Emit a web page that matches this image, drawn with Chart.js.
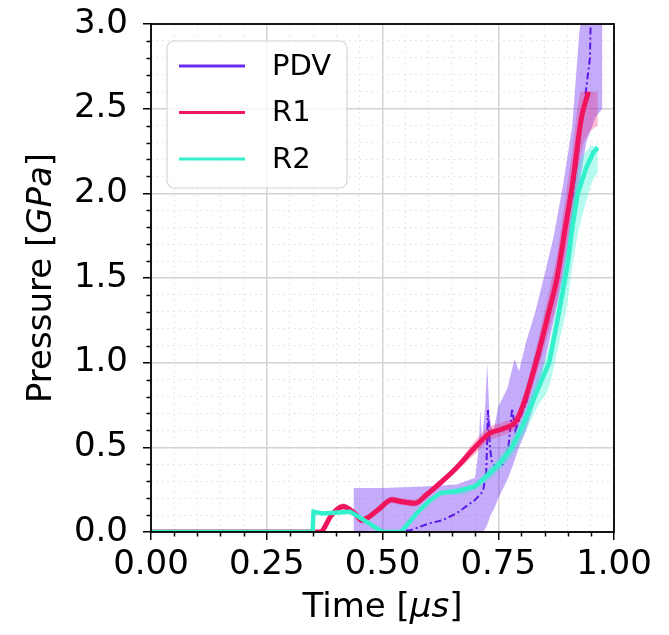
<!DOCTYPE html>
<html>
<head>
<meta charset="utf-8">
<script src="https://cdn.jsdelivr.net/npm/chart.js@4.4.1/dist/chart.umd.min.js"></script>
<style>
  html, body { margin: 0; padding: 0; background: #fff; }
  #contenedor { width: 669px; height: 635px; position: relative; }
</style>
</head>
<body>
<div id="contenedor"><canvas id="grafico"></canvas></div>
<script>
// ticks
const xMayores = [0, 0.25, 0.5, 0.75, 1.0];
const xEtiquetas = ['0.00', '0.25', '0.50', '0.75', '1.00'];
const yMayores = [0, 0.5, 1.0, 1.5, 2.0, 2.5, 3.0];
const yEtiquetas = ['0.0', '0.5', '1.0', '1.5', '2.0', '2.5', '3.0'];

// PDV (media + banda)
const pdvTiempo = [0, 0.47, 0.52, 0.56, 0.60, 0.63, 0.66, 0.70, 0.717, 0.724, 0.728, 0.732, 0.736, 0.745, 0.76, 0.772, 0.78, 0.787, 0.795, 0.81, 0.825, 0.84, 0.855, 0.87, 0.885, 0.90, 0.912, 0.93, 0.94, 0.948, 0.95];
const pdvMedia  = [0, 0, 0.003, 0.01, 0.05, 0.07, 0.11, 0.19, 0.24, 0.35, 0.72, 0.50, 0.42, 0.38, 0.40, 0.50, 0.73, 0.60, 0.66, 0.76, 0.92, 1.05, 1.24, 1.42, 1.62, 1.85, 2.0, 2.42, 2.62, 2.8, 3.05];
const pdvBandaTiempo = [0.437, 0.4375, 0.50, 0.60, 0.66, 0.70, 0.708, 0.711, 0.715, 0.717, 0.722, 0.726, 0.731, 0.735, 0.74, 0.75, 0.77, 0.785, 0.795, 0.81, 0.83, 0.85, 0.87, 0.89, 0.91, 0.925, 0.94, 0.96, 0.975];
const pdvBajo = [0, 0, 0, 0, 0, 0, 0, 0, 0, 0, 0.02, 0.04, 0.08, 0.11, 0.13, 0.2, 0.31, 0.42, 0.5, 0.6, 0.78, 1.0, 1.25, 1.5, 1.8, 2.05, 2.3, 2.45, 2.5];
const pdvAlto = [0, 0.26, 0.26, 0.27, 0.28, 0.32, 0.5, 0.72, 0.55, 0.6, 0.75, 1.0, 0.7, 0.62, 0.6, 0.74, 0.85, 1.02, 0.95, 1.12, 1.3, 1.52, 1.75, 2.05, 2.4, 2.95, 3.2, 3.2, 3.2];

// R1
const r1Tiempo = [0, 0.365, 0.39, 0.415, 0.44, 0.455, 0.49, 0.52, 0.54, 0.57, 0.595, 0.625, 0.66, 0.70, 0.73, 0.76, 0.79, 0.81, 0.84, 0.862, 0.877, 0.895, 0.91, 0.93, 0.945, 0.965];
const r1Media  = [0, 0, 0.1, 0.15, 0.11, 0.07, 0.13, 0.19, 0.18, 0.17, 0.22, 0.29, 0.38, 0.50, 0.58, 0.61, 0.66, 0.80, 1.09, 1.33, 1.50, 1.80, 2.05, 2.45, 2.6, null];
const r1Bajo   = [0, 0, 0.08, 0.13, 0.09, 0.05, 0.11, 0.17, 0.16, 0.15, 0.20, 0.27, 0.36, 0.46, 0.54, 0.57, 0.62, 0.74, 1.00, 1.21, 1.36, 1.63, 1.85, 2.25, 2.35, 2.40];
const r1Alto   = [0, 0, 0.12, 0.17, 0.13, 0.09, 0.15, 0.21, 0.20, 0.19, 0.24, 0.31, 0.40, 0.54, 0.62, 0.65, 0.70, 0.86, 1.18, 1.45, 1.64, 1.97, 2.25, 2.60, 2.60, 2.60];

// R2
const r2Tiempo = [0, 0.349, 0.351, 0.37, 0.43, 0.46, 0.50, 0.54, 0.577, 0.60, 0.625, 0.66, 0.70, 0.725, 0.755, 0.78, 0.805, 0.835, 0.86, 0.88, 0.90, 0.91, 0.922, 0.94, 0.955, 0.965];
const r2Media  = [0, 0, 0.12, 0.11, 0.12, 0.07, 0, 0, 0.12, 0.18, 0.23, 0.24, 0.27, 0.33, 0.41, 0.50, 0.64, 0.84, 1.00, 1.28, 1.58, 1.80, 2.00, 2.15, 2.24, 2.27];
const r2Bajo   = [0, 0, 0.11, 0.10, 0.11, 0.06, 0, 0, 0.11, 0.17, 0.22, 0.22, 0.25, 0.30, 0.37, 0.45, 0.57, 0.74, 0.86, 1.10, 1.36, 1.56, 1.76, 1.95, 2.08, 2.12];
const r2Alto   = [0, 0, 0.13, 0.12, 0.13, 0.08, 0, 0, 0.13, 0.19, 0.24, 0.26, 0.29, 0.36, 0.45, 0.55, 0.70, 0.92, 1.10, 1.40, 1.72, 1.95, 2.15, 2.25, 2.28, 2.28];

function puntos(t, v) {
    return t.map((x, i) => ({ x: x, y: v[i] }));
}

function esMayor(v, lista) {
    return lista.some(m => Math.abs(m - v) < 1e-6);
}

const FUENTE = '"DejaVu Sans", sans-serif';

function banda(t, bajo, alto, color, orden, suave) {
    const comun = { label: '', banda: true, borderWidth: 0, borderColor: 'rgba(0,0,0,0)', pointRadius: 0, order: orden, clip: 0 };
    if (suave) comun.cubicInterpolationMode = 'monotone';
    return [
        Object.assign({}, comun, { data: puntos(t, bajo), fill: false }),
        Object.assign({}, comun, { data: puntos(t, alto), backgroundColor: color, fill: '-1' })
    ];
}

// marco, ticks menores y leyenda
const extras = {
    id: 'extras',
    afterDatasetsDraw(chart) {
        const ctx = chart.ctx;
        const a = chart.chartArea;
        const sx = chart.scales.x, sy = chart.scales.y;
        ctx.save();
        ctx.strokeStyle = '#000';
        ctx.lineWidth = 1.5;
        for (let i = 0; i <= 20; i++) {
            const v = i * 0.05;
            if (esMayor(v, xMayores)) continue;
            const px = Math.round(sx.getPixelForValue(v)) + 0.5;
            ctx.beginPath(); ctx.moveTo(px, a.bottom); ctx.lineTo(px, a.bottom + 4.5); ctx.stroke();
        }
        for (let i = 0; i <= 30; i++) {
            const v = i * 0.1;
            if (esMayor(v, yMayores)) continue;
            const py = Math.round(sy.getPixelForValue(v)) + 0.5;
            ctx.beginPath(); ctx.moveTo(a.left, py); ctx.lineTo(a.left - 4.5, py); ctx.stroke();
        }
        ctx.lineWidth = 1.8;
        ctx.strokeRect(a.left, a.top, a.right - a.left, a.bottom - a.top);

        // leyenda
        const lx = 167, ly = 41, lw = 180, lh = 147, r = 7;
        ctx.beginPath();
        ctx.moveTo(lx + r, ly);
        ctx.arcTo(lx + lw, ly, lx + lw, ly + lh, r);
        ctx.arcTo(lx + lw, ly + lh, lx, ly + lh, r);
        ctx.arcTo(lx, ly + lh, lx, ly, r);
        ctx.arcTo(lx, ly, lx + lw, ly, r);
        ctx.closePath();
        ctx.fillStyle = 'rgba(255,255,255,0.8)';
        ctx.fill();
        ctx.strokeStyle = '#d6d6d6';
        ctx.lineWidth = 1.2;
        ctx.stroke();
        const entradas = chart.data.datasets.filter(d => !d.banda);
        ctx.font = '29px ' + FUENTE;
        ctx.textBaseline = 'middle';
        ctx.textAlign = 'left';
        entradas.forEach((d, i) => {
            const y = 66 + i * 46.5;
            ctx.strokeStyle = d.colorLeyenda;
            ctx.lineWidth = 2.8;
            ctx.setLineDash([]);
            ctx.beginPath(); ctx.moveTo(179, y); ctx.lineTo(245, y); ctx.stroke();
            ctx.fillStyle = '#000';
            ctx.fillText(d.label, 272, y + 1);
        });
        ctx.restore();
    },
    afterDraw(chart) {
        const ctx = chart.ctx;
        const a = chart.chartArea;
        function mixto(partes, x, y) {
            let total = 0;
            partes.forEach(p => {
                ctx.font = (p[1] ? 'italic ' : '') + '34px ' + FUENTE;
                total += ctx.measureText(p[0]).width;
            });
            let cx = x - total / 2;
            partes.forEach(p => {
                ctx.font = (p[1] ? 'italic ' : '') + '34px ' + FUENTE;
                ctx.fillText(p[0], cx, y);
                cx += ctx.measureText(p[0]).width;
            });
        }
        ctx.save();
        ctx.fillStyle = '#000';
        ctx.textBaseline = 'middle';
        ctx.textAlign = 'left';
        mixto([['Time [', false], ['\u03bcs', true], [']', false]], (a.left + a.right) / 2, 608);
        ctx.translate(42, (a.top + a.bottom) / 2);
        ctx.rotate(-Math.PI / 2);
        mixto([['Pressure [', false], ['GPa', true], [']', false]], 0, 0);
        ctx.restore();
    }
};

const ctx = document.getElementById('grafico').getContext('2d');
new Chart(ctx, {
    type: 'line',
    data: {
        datasets: [
            ...banda(pdvBandaTiempo, pdvBajo, pdvAlto, 'rgba(125,70,245,0.45)', 10, false),
            { label: 'PDV', data: puntos(pdvTiempo, pdvMedia), borderColor: '#5a18e6', colorLeyenda: '#6a2cee', borderWidth: 2, borderDash: [7, 3, 2, 3], pointRadius: 0, fill: false, order: 9, clip: 0 },
            ...banda(r1Tiempo, r1Bajo, r1Alto, 'rgba(240,30,110,0.3)', 8, true),
            { label: 'R1', data: puntos(r1Tiempo, r1Media), borderColor: '#f0145c', colorLeyenda: '#f0185e', borderWidth: 5, cubicInterpolationMode: 'monotone', pointRadius: 0, fill: false, order: 7, clip: 0 },
            ...banda(r2Tiempo, r2Bajo, r2Alto, 'rgba(50,240,210,0.35)', 6, true),
            { label: 'R2', data: puntos(r2Tiempo, r2Media), borderColor: '#33f0cc', colorLeyenda: '#33f0cc', borderWidth: 4.5, pointRadius: 0, fill: false, order: 5, clip: 0 }
        ]
    },
    options: {
        responsive: true,
        maintainAspectRatio: false,
        animation: false,
        devicePixelRatio: 1,
        layout: { padding: { left: 0, right: 55, top: 24, bottom: 0 } },
        plugins: {
            legend: { display: false },
            tooltip: { enabled: false }
        },
        scales: {
            x: {
                type: 'linear',
                min: 0,
                max: 1,
                afterFit: s => { s.height = 103; },
                afterBuildTicks: s => {
                    const t = [];
                    for (let i = 0; i <= 20; i++) t.push({ value: i * 0.05 });
                    s.ticks = t;
                },
                ticks: {
                    autoSkip: false,
                    maxRotation: 0,
                    padding: 5,
                    color: '#000',
                    font: { family: FUENTE, size: 34 },
                    callback: v => {
                        const i = xMayores.findIndex(m => Math.abs(m - v) < 1e-6);
                        return i >= 0 ? xEtiquetas[i] : '';
                    }
                },
                grid: {
                    color: c => esMayor(c.tick.value, xMayores) ? '#d2d2d2' : '#e0e0e0',
                    lineWidth: c => esMayor(c.tick.value, xMayores) ? 1.5 : 1,
                    tickColor: c => esMayor(c.tick.value, xMayores) ? '#000' : 'rgba(0,0,0,0)',
                    tickLength: 8,
                    tickWidth: 1.5
                },
                border: {
                    display: false,
                    dash: c => (c.tick && !esMayor(c.tick.value, xMayores)) ? [1.5, 4] : []
                }
            },
            y: {
                type: 'linear',
                min: 0,
                max: 3,
                afterFit: s => { s.width = 151; s.paddingTop = 0; s.paddingBottom = 0; },
                afterBuildTicks: s => {
                    const t = [];
                    for (let i = 0; i <= 30; i++) t.push({ value: i * 0.1 });
                    s.ticks = t;
                },
                ticks: {
                    autoSkip: false,
                    padding: 15,
                    color: '#000',
                    font: { family: FUENTE, size: 34 },
                    callback: v => {
                        const i = yMayores.findIndex(m => Math.abs(m - v) < 1e-6);
                        return i >= 0 ? yEtiquetas[i] : '';
                    }
                },
                grid: {
                    color: c => esMayor(c.tick.value, yMayores) ? '#d2d2d2' : '#e0e0e0',
                    lineWidth: c => esMayor(c.tick.value, yMayores) ? 1.5 : 1,
                    tickColor: c => esMayor(c.tick.value, yMayores) ? '#000' : 'rgba(0,0,0,0)',
                    tickLength: 8,
                    tickWidth: 1.5
                },
                border: {
                    display: false,
                    dash: c => (c.tick && !esMayor(c.tick.value, yMayores)) ? [1.5, 4] : []
                }
            }
        }
    },
    plugins: [extras]
});
</script>
</body>
</html>
